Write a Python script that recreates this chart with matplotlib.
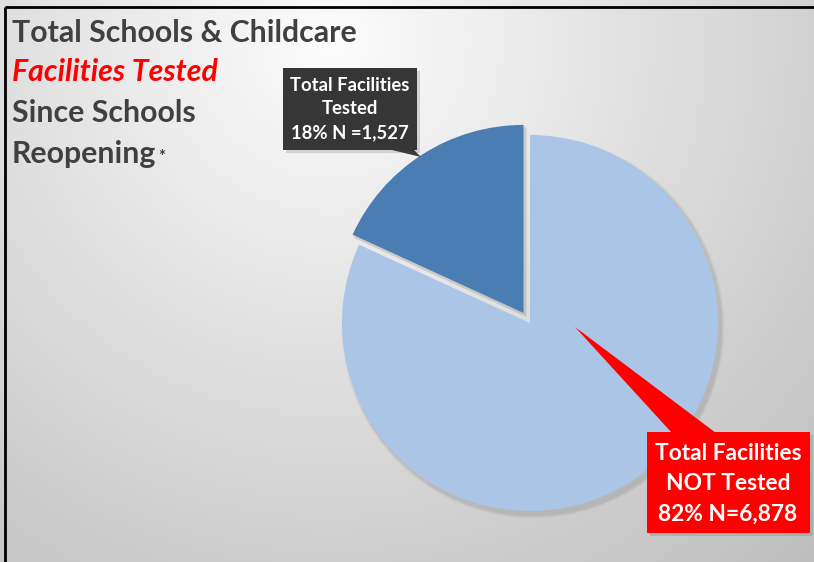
import numpy as np
import matplotlib
matplotlib.use("Agg")
import matplotlib.pyplot as plt
from matplotlib.patches import Polygon, Rectangle

# ---- data ----
categories = ["Total Facilities Tested", "Total Facilities NOT Tested"]
counts = [1527, 6878]
pcts = [18, 82]
colors = ["#4a7db1", "#abc5e6"]

title_lines = ["Total Schools & Childcare", "Facilities Tested", "Since Schools", "Reopening"]

W, H = 814, 562
fig = plt.figure(figsize=(W / 100, H / 100), dpi=100)
ax = fig.add_axes([0, 0, 1, 1])


def Y(y):
    return H - y


# background radial gradient
yy, xx = np.mgrid[0:H, 0:W]
d = np.sqrt((xx - 330) ** 2 + (yy - 40) ** 2) / 590.0
v = np.clip(0.99 - 0.205 * d, 0, 1)
img = np.dstack([v, v, v])
ax.imshow(img, extent=[0, W, 0, H], origin="upper", zorder=0, aspect="auto")

# border lines
ax.plot([5, W], [Y(7), Y(7)], color="black", lw=2, zorder=1, solid_capstyle="butt")
ax.plot([5, 5], [Y(7), 0], color="black", lw=2, zorder=1, solid_capstyle="butt")

cx, cy, R = 530, Y(323), 188
expl = [12, 0]

# soft shadow
for k, a in [(9, 0.04), (7, 0.05), (5, 0.07), (3, 0.10)]:
    ax.pie(counts, colors=["#707070"] * 2, startangle=90, counterclock=True,
           radius=R + k * 0.4, center=(cx + 3, cy - 4), explode=expl, frame=True,
           wedgeprops=dict(alpha=a, linewidth=0))

ax.pie(counts, colors=colors, startangle=90, counterclock=True,
       radius=R, center=(cx, cy), explode=expl, frame=True,
       wedgeprops=dict(linewidth=0))

# dark callout
ax.add_patch(Polygon([[392, Y(150)], [414, Y(150)], [421, Y(157)]], closed=True,
                     facecolor="#3a3a3a", edgecolor="none", zorder=5))
ax.add_patch(Rectangle((286, Y(153)), 134, 82, facecolor="#999999", alpha=0.35,
                       edgecolor="none", zorder=4))
ax.add_patch(Rectangle((283, Y(150)), 134, 82, facecolor="#363636",
                       edgecolor="none", zorder=5))
ax.text(350, Y(109), f"{categories[0].replace(' Tested', '')}\nTested\n{pcts[0]}% N ={counts[0]:,}",
        ha="center", va="center", color="white", fontsize=13.3, fontweight="bold",
        family="Lato", linespacing=1.45, zorder=6)

# red callout
ax.add_patch(Polygon([[575, Y(327)], [672, Y(433)], [716, Y(433)]], closed=True,
                     facecolor="#ff0000", edgecolor="none", zorder=5))
ax.add_patch(Rectangle((650, Y(536)), 163, 101, facecolor="#888888", alpha=0.35,
                       edgecolor="none", zorder=4))
ax.add_patch(Rectangle((647, Y(533)), 163, 101, facecolor="#ff0000",
                       edgecolor="none", zorder=5))
ax.text(728, Y(484), f"Total Facilities\nNOT Tested\n{pcts[1]}% N={counts[1]:,}",
        ha="center", va="center", color="white", fontsize=16.4, fontweight="bold",
        family="Lato", linespacing=1.55, zorder=6)

# title
tcol = "#404040"
fs = 21.8
ax.text(12, Y(33), title_lines[0], ha="left", va="center", color=tcol,
        fontsize=fs, fontweight="bold", family="Lato")
ax.text(12, Y(72), title_lines[1], ha="left", va="center", color="#ff0000",
        fontsize=fs, fontweight="bold", fontstyle="italic", family="Lato")
ax.text(12, Y(113), title_lines[2], ha="left", va="center", color=tcol,
        fontsize=fs, fontweight="bold", family="Lato")
t = ax.text(12, Y(154), title_lines[3], ha="left", va="center", color=tcol,
            fontsize=fs, fontweight="bold", family="Lato")
ax.annotate("*", xy=(1, 0.0), xycoords=t, xytext=(1, 2), textcoords="offset points",
            ha="left", va="bottom", color=tcol, fontsize=12, fontweight="bold",
            family="Lato")

ax.set_xlim(0, W)
ax.set_ylim(0, H)
ax.set_aspect("auto")
ax.axis("off")

fig.savefig("out.png", dpi=100)
